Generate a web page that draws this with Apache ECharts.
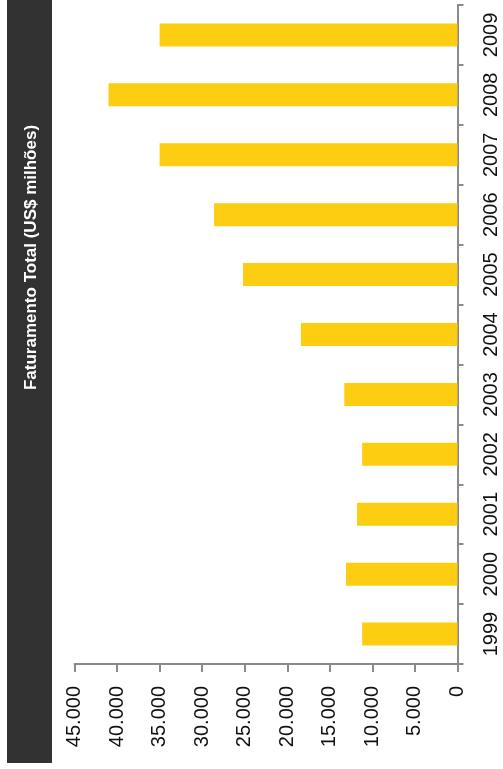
<!DOCTYPE html>
<html>
<head>
<meta charset="utf-8">
<script src="https://cdn.jsdelivr.net/npm/echarts@6/dist/echarts.min.js"></script>
<style>
  html, body { margin: 0; padding: 0; background: #ffffff; }
  #chart { width: 503px; height: 769px; }
</style>
</head>
<body>
<div id="chart"></div>
<script>
// Annual revenue, US$ millions
const years = ['1999', '2000', '2001', '2002', '2003', '2004', '2005', '2006', '2007', '2008', '2009'];
const revenue = [11200, 13100, 11800, 11200, 13300, 18400, 25200, 28600, 35000, 41000, 35000];
const valueTicks = [0, 5000, 10000, 15000, 20000, 25000, 30000, 35000, 40000, 45000];
const titleText = 'Faturamento Total (US$ milhões)';

const axisGray = '#8a8a8a';
const fontFamily = '"Liberation Sans", Arial, sans-serif';

// thousands separator in pt-BR style: 45.000
function fmt(v) {
  return String(v).replace(/\B(?=(\d{3})+(?!\d))/g, '.');
}

const chart = echarts.init(document.getElementById('chart'), null, { renderer: 'canvas' });

chart.setOption({
  animation: false,
  backgroundColor: '#ffffff',
  grid: { left: 74.5, right: 45.5, top: 5, bottom: 105, containLabel: false },
  xAxis: {
    type: 'value',
    inverse: true,
    position: 'bottom',
    min: valueTicks[0],
    max: valueTicks[valueTicks.length - 1],
    interval: valueTicks[1] - valueTicks[0],
    axisLine: { show: true, lineStyle: { color: axisGray, width: 2 } },
    axisTick: { show: true, length: 8, lineStyle: { color: axisGray, width: 2 } },
    splitLine: { show: false },
    axisLabel: {
      rotate: 90,
      margin: 22,
      fontSize: 20,
      color: '#111111',
      fontFamily: fontFamily,
      formatter: fmt
    }
  },
  yAxis: {
    type: 'category',
    position: 'right',
    data: years,
    axisLine: { show: true, lineStyle: { color: axisGray, width: 2 } },
    axisTick: { show: true, length: 6, lineStyle: { color: axisGray, width: 2 } },
    splitLine: { show: false },
    axisLabel: {
      rotate: 90,
      margin: 24,
      fontSize: 20,
      color: '#111111',
      fontFamily: fontFamily
    }
  },
  series: [{
    type: 'bar',
    data: revenue,
    barWidth: 23,
    itemStyle: { color: '#FCCD10' }
  }],
  graphic: [
    {
      type: 'rect',
      shape: { x: 7, y: 0, width: 45, height: 763 },
      style: { fill: '#323232' },
      z: 0
    },
    {
      type: 'text',
      x: 31.5,
      y: 257.5,
      rotation: Math.PI / 2,
      style: {
        text: titleText,
        fill: '#ffffff',
        font: 'bold 17px ' + fontFamily,
        align: 'center',
        verticalAlign: 'middle'
      },
      z: 1
    }
  ]
});
</script>
</body>
</html>
